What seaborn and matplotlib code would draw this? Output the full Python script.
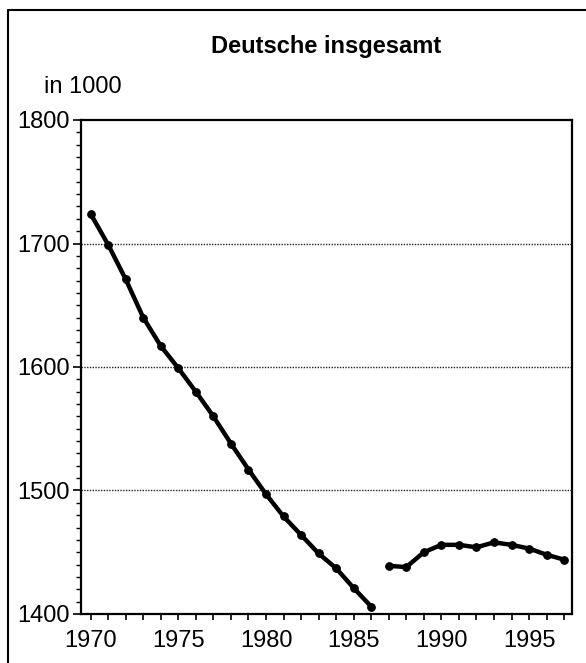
import matplotlib
matplotlib.use("Agg")
import matplotlib.pyplot as plt
from matplotlib import font_manager
from matplotlib.lines import Line2D
from matplotlib.ticker import MultipleLocator
import pandas as pd
import seaborn as sns

# ── DATA ─────────────────────────────────────────────────────────────────────
years_old = [1970, 1971, 1972, 1973, 1974, 1975, 1976, 1977, 1978,
             1979, 1980, 1981, 1982, 1983, 1984, 1985, 1986]
values_old = [1724, 1699, 1671, 1640, 1617, 1599, 1580, 1560, 1538,
              1517, 1497, 1479, 1464, 1449, 1437, 1421, 1406]

years_new = [1987, 1988, 1989, 1990, 1991, 1992, 1993, 1994, 1995, 1996, 1997]
values_new = [1439, 1438, 1450, 1456, 1456, 1454, 1458, 1456, 1453, 1448, 1444]

title = "Deutsche insgesamt"
unit_label = "in 1000"
y_ticks = [1400, 1500, 1600, 1700, 1800]
grid_levels = [1500, 1600, 1700]

# ── STYLE ────────────────────────────────────────────────────────────────────
sns.set_theme(style="white")
installed = {f.name for f in font_manager.fontManager.ttflist}
FONT = "Liberation Sans Narrow" if "Liberation Sans Narrow" in installed else "Liberation Sans"
plt.rcParams["font.family"] = [FONT, "DejaVu Sans"]
plt.rcParams["text.color"] = "black"
plt.rcParams["xtick.color"] = "black"
plt.rcParams["ytick.color"] = "black"
FS = 17

df = pd.concat([
    pd.DataFrame({"Jahr": years_old, "Wert": values_old, "Periode": "alt"}),
    pd.DataFrame({"Jahr": years_new, "Wert": values_new, "Periode": "neu"}),
])

fig = plt.figure(figsize=(5.86, 6.63), dpi=100)
ax = fig.add_axes([81 / 586, 1 - 614 / 663, 491 / 586, 494 / 663])

for lvl in grid_levels:
    ax.axhline(lvl, color="#222222", linestyle=(0, (1, 1)), linewidth=1.0, zorder=1)

sns.lineplot(data=df, x="Jahr", y="Wert", units="Periode", estimator=None,
             color="black", linewidth=3.2, marker="o", markersize=5.5,
             markeredgecolor="black", ax=ax, zorder=3)

ax.set_xlim(1969.45, 1997.45)
ax.set_ylim(1400, 1800)
ax.set_xlabel("")
ax.set_ylabel("")

ax.xaxis.set_major_locator(MultipleLocator(5))
ax.xaxis.set_minor_locator(MultipleLocator(1))
ax.set_yticks(y_ticks)
ax.yaxis.set_minor_locator(MultipleLocator(10))

ax.tick_params(axis="x", which="both", direction="out", length=4.5, width=1.2,
               labelsize=FS, pad=7, bottom=True)
ax.tick_params(axis="y", which="major", direction="out", length=6, width=1.2,
               labelsize=FS, pad=2, left=True)
ax.tick_params(axis="y", which="minor", direction="out", length=3.5, width=1.0,
               left=True)

for s in ax.spines.values():
    s.set_color("black")
    s.set_linewidth(1.6)

fig.text(326 / 586, 1 - 47 / 663, title, ha="center", va="center",
         fontsize=FS, fontweight="bold")
fig.text(44 / 586, 1 - 87 / 663, unit_label, ha="left", va="center", fontsize=FS)

# outer frame (left and top edge, as in the scan)
fig.add_artist(Line2D([8 / 586, 8 / 586], [0, 1 - 10 / 663],
                      transform=fig.transFigure, color="black", linewidth=1.5))
fig.add_artist(Line2D([8 / 586, 1], [1 - 10 / 663, 1 - 10 / 663],
                      transform=fig.transFigure, color="black", linewidth=1.5))

fig.savefig("out.png", dpi=100, facecolor="white")
plt.close(fig)
